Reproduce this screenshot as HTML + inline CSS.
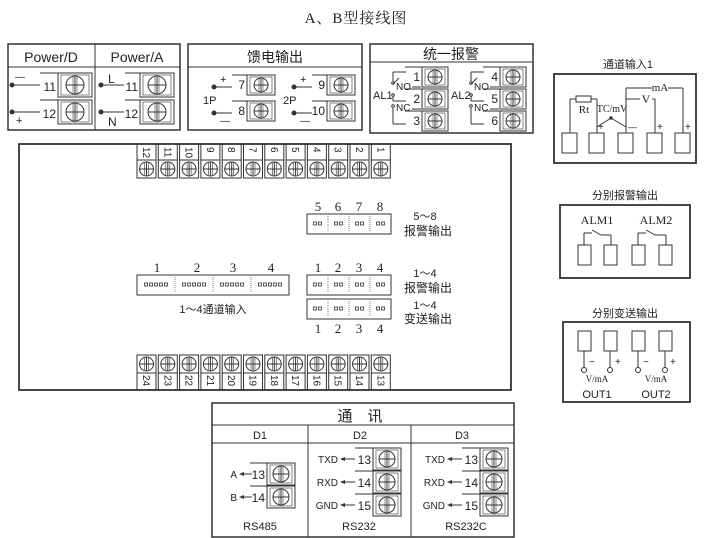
<!DOCTYPE html>
<html><head><meta charset="utf-8"><style>
html,body{margin:0;padding:0;background:#fff;}
svg{display:block;}
text{font-family:"Liberation Sans Narrow","Liberation Sans","Noto Sans CJK SC",sans-serif;fill:#222;}
.cj{font-family:"Liberation Sans","Noto Sans CJK SC",sans-serif;}
.sf{font-family:"Liberation Serif","Noto Serif CJK SC",serif;}
</style></head><body>
<svg id="s" width="713" height="538" viewBox="0 0 713 538" xmlns="http://www.w3.org/2000/svg" stroke="#333" fill="none" stroke-width="1">
<text x="356" y="23" class="sf" font-size="15" text-anchor="middle" stroke="none" letter-spacing="1">A、B型接线图</text>
</svg>
<script>
var s=document.getElementById('s'),o='';
function L(a,b,c,d,w){o+='<line x1="'+a+'" y1="'+b+'" x2="'+c+'" y2="'+d+'"'+(w?' stroke-width="'+w+'"':'')+'/>';}
function R(x,y,w,h,sw){o+='<rect x="'+x+'" y="'+y+'" width="'+w+'" height="'+h+'"'+(sw?' stroke-width="'+sw+'"':'')+'/>';}
function T(x,y,t,sz,a,cls){o+='<text x="'+x+'" y="'+y+'" font-size="'+sz+'" text-anchor="'+(a||'start')+'" stroke="none"'+(cls?' class="'+cls+'"':'')+'>'+t+'</text>';}
function C(x,y,r,f){o+='<circle cx="'+x+'" cy="'+y+'" r="'+r+'"'+(f?' fill="#333"':'')+'/>';}
function screw(cx,cy,r){C(cx,cy,r);L(cx-r,cy,cx+r,cy);L(cx,cy-r,cx,cy+r);L(cx-2,cy-r+1,cx-2,cy+r-1,0.6);L(cx+2,cy-r+1,cx+2,cy+r-1,0.6);}
function ht(vx,y,h,sw,num,left,ns){
  L(left,y,vx+sw+4,y);R(vx,y,sw+4,h);R(vx+3,y+2,sw-2,h-4,0.6);
  screw(vx+3+(sw-2)/2,y+h/2,Math.min(sw,h)/2-3);
  T(vx-2,y+h-6,num,ns||12,'end');
}
// Power box
R(8,44,172,86,1.5);L(8,67,180,67);L(95,44,95,130);
T(51,62,'Power/D',14,'middle');T(137,62,'Power/A',14,'middle');
ht(58,73,24,30,'11',40);ht(58,100,24,30,'12',40);
L(12,85,40,85);C(12,85,2,1);T(15,80,'—',10);
L(12,112,40,112);C(12,112,2,1);T(16,124,'+',11);
ht(140,73,24,30,'11',125);ht(140,100,24,30,'12',125);
L(101,85,124,85);C(101,85,2,1);T(108,83,'L',12);
L(101,112,124,112);C(101,112,2,1);T(108,126,'N',12);
// feed output
R(188,44,174,86,1.5);L(188,67,362,67);
T(275,62,'馈电输出',14,'middle','cj');
ht(247,75,20,24,'7',232);ht(247,101,20,24,'8',232);
ht(327,75,20,24,'9',312);ht(327,101,20,24,'10',312);
L(214,87,232,87);C(214,87,2,1);T(220,83,'+',11);
L(214,113,232,113);C(214,113,2,1);T(220,124,'—',10);
T(203,104,'1P',11);
L(294,87,312,87);C(294,87,2,1);T(300,83,'+',11);
L(294,113,312,113);C(294,113,2,1);T(300,124,'—',10);
T(283,104,'2P',11);
// unified alarm
R(370,44,163,89,1.5);L(370,62,533,62);
T(451,59,'统一报警',14,'middle','cj');
ht(422,67,20,22,'1',405);ht(422,89,20,22,'2',405);ht(422,111,20,22,'3',405);
ht(500,67,20,22,'4',483);ht(500,89,20,22,'5',483);ht(500,111,20,22,'6',483);
function relay(x,lab,lx){
 L(x,72,x,81);L(x,72,x+13,72);
 C(x,83,1.3);L(x,84,x+6,78);
 C(x,95,1.3);L(x,96,x,101);L(x,101,x+13,101);
 C(x,106,1.3);L(x,108,x,124);L(x,124,x+13,124);
 T(x+3,90,'NO',10);T(x+3,111,'NC',10);T(lx,99,lab,11);
 L(x+19,87,x+28,87);L(x+19,109,x+28,109);}
relay(393,'AL1',373);relay(471,'AL2',451);
// channel input 1
T(628,68,'通道输入1',11,'middle','cj');
R(554,74,142,89,1.8);
[562,589,618,647,675].forEach(function(x){R(x,133,15,20);});
L(570,133,570,99);L(570,99,576,99);R(576,96,15,6);L(591,99,597,99);L(597,99,597,133);
L(626,133,626,88);L(626,88,652,88);T(660,91,'mA',11,'middle','sf');L(668,88,683,88);L(683,88,683,133);
L(626,99,640,99);T(646,103,'V',12,'middle','sf');L(652,99,655,99);L(655,99,655,133);
L(597,127,611,118);L(611,118,626,127);C(611,118,1.2,1);
T(584,113,'Rt',11,'middle','sf');T(612,112,'TC/mV',10,'middle','sf');
T(598,130,'+',10);T(628,130,'—',9);T(657,130,'+',10);T(685,130,'+',10);
// separate alarm
T(625,199,'分别报警输出',11,'middle','cj');
R(560,205,130,73,1.8);
T(597,224,'ALM1',12,'middle','sf');T(656,224,'ALM2',12,'middle','sf');
[578,604,632,659].forEach(function(x){R(x,245,13,20);});
function alm(a,b){L(a,245,a,233);L(a,233,a+8,233);L(a+8,230,a+17,235);L(a+17,235,b,235);L(b,235,b,245);}
alm(584,611);alm(638,666);
// separate transmit
T(625,317,'分别变送输出',11,'middle','cj');
R(563,322,127,80,1.8);
[578,604,632,659].forEach(function(x,i){R(x,331,13,20);L(x+6,351,x+6,368);C(x+6,370,2.5);T(x+11,365,i%2?'+':'−',10);});
T(597,382,'V/mA',9,'middle','sf');T(656,382,'V/mA',9,'middle','sf');
T(597,398,'OUT1',11,'middle');T(656,398,'OUT2',11,'middle');
// main panel
R(19,144,492,246,1.8);
for(var i=0;i<12;i++){var x=137+i*21.3;
 R(x,144,19,16);R(x,160,19,18);screw(x+9.5,169,7);
 o+='<text transform="translate('+(x+6)+',147) rotate(90)" font-size="10" stroke="none">'+(12-i)+'</text>';
 R(x,355,19,18);screw(x+9.5,364,7);R(x,373,19,17);
 o+='<text transform="translate('+(x+6)+',375) rotate(90)" font-size="10" stroke="none">'+(24-i)+'</text>';}
function dip(x,y,w,n,k){R(x,y,w,20);var cw=w/n;for(var j=0;j<n;j++){if(j)o+='<line x1="'+(x+j*cw)+'" y1="'+(y+2)+'" x2="'+(x+j*cw)+'" y2="'+(y+18)+'" stroke-dasharray="1,1" stroke-width="0.6"/>';
 var tw=k*5;for(var m=0;m<k;m++)R(x+j*cw+(cw-tw)/2+m*5+1,y+8,3,3,0.8);}}
dip(307,214,84,4,2);dip(307,275,84,4,2);dip(307,299,84,4,2);dip(137,275,152,4,5);
var nx=[318,338,359,380];
[5,6,7,8].forEach(function(n,i){T(nx[i],211,n,13,'middle','sf');});
[1,2,3,4].forEach(function(n,i){T(nx[i],272,n,13,'middle','sf');T(nx[i],333,n,13,'middle','sf');});
[157,197,233,271].forEach(function(x,i){T(x,272,i+1,13,'middle','sf');});
T(213,313,'1～4通道输入',11,'middle','cj');
T(425,220,'5～8',11,'middle');T(428,235,'报警输出',12,'middle','cj');
T(425,277,'1～4',11,'middle');T(428,292,'报警输出',12,'middle','cj');
T(425,309,'1～4',11,'middle');T(428,323,'变送输出',12,'middle','cj');
// comm
R(212,403,302,134,1.5);L(212,425,514,425);L(212,443,514,443);L(308,425,308,537);L(411,425,411,537);
T(360,421,'通　讯',15,'middle','cj');
T(260,439,'D1',11,'middle');T(360,439,'D2',11,'middle');T(462,439,'D3',11,'middle');
function arr(x1,y,x2,lab){L(x1+3,y,x2,y);o+='<path d="M'+x1+' '+y+' l5 -2 v4z" fill="#333" stroke="none"/>';T(x1-2,y+4,lab,10,'end');}
ht(267,463,22,24,'13',250,12);ht(267,486,22,24,'14',250,12);
arr(239,474,252,'A');arr(239,497,252,'B');T(260,530,'RS485',11,'middle');
[[373,'RS232'],[480,'RS232C']].forEach(function(c){var vx=c[0];
 ht(vx,448,22,24,'13',vx-18,12);ht(vx,471,22,24,'14',vx-18,12);ht(vx,494,22,24,'15',vx-18,12);
 arr(vx-33,459,vx-18,'TXD');arr(vx-33,482,vx-18,'RXD');arr(vx-33,505,vx-18,'GND');
 T(vx-14,530,c[1],11,'middle');});
s.insertAdjacentHTML('beforeend',o);
</script>
</body></html>
